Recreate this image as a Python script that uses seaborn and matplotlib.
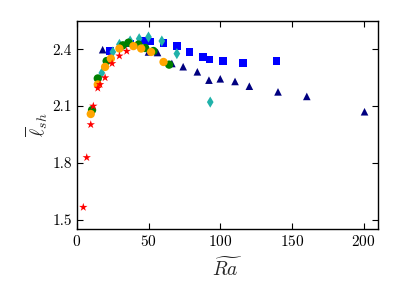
import numpy as np
import pandas as pd
import matplotlib
matplotlib.use("Agg")
import matplotlib.pyplot as plt
import seaborn as sns

# Series (Ra_tilde, l_sh)
star_x = [4.4, 6.8, 9.6, 11.4, 14.5, 16.1, 19.6, 24.5, 29.6, 34.7]
star_y = [1.565, 1.828, 2.002, 2.10, 2.195, 2.214, 2.25, 2.325, 2.365, 2.39]

orange_x = [9.6, 14.5, 19.6, 23.6, 29.6, 39.4, 44.8, 51.7, 60.4]
orange_y = [2.058, 2.214, 2.307, 2.351, 2.404, 2.417, 2.404, 2.386, 2.333]

green_x = [10.5, 14.5, 20.7, 32.0, 35.9, 42.9, 47.6, 53.4, 64.3]
green_y = [2.079, 2.246, 2.338, 2.421, 2.435, 2.425, 2.407, 2.391, 2.319]

diamond_x = [17.3, 25.0, 29.6, 37.1, 43.4, 49.9, 59.2, 69.7, 93.0]
diamond_y = [2.275, 2.386, 2.426, 2.444, 2.456, 2.465, 2.444, 2.377, 2.121]

square_x = [23.1, 37.1, 45.7, 51.0, 60.4, 69.7, 78.4, 87.9, 92.5, 101.9, 115.9, 139.2]
square_y = [2.39, 2.43, 2.447, 2.442, 2.433, 2.416, 2.385, 2.36, 2.346, 2.337, 2.328, 2.338]

tri_x = [17.9, 35.9, 49.9, 56.2, 66.2, 74.1, 84.0, 92.1, 100.0, 110.3, 120.3, 140.3, 160.4, 200.7]
tri_y = [2.398, 2.438, 2.386, 2.383, 2.325, 2.308, 2.281, 2.237, 2.244, 2.23, 2.205, 2.175, 2.151, 2.07]

series = {
    "tri": (tri_x, tri_y),
    "square": (square_x, square_y),
    "diamond": (diamond_x, diamond_y),
    "green": (green_x, green_y),
    "orange": (orange_x, orange_y),
    "star": (star_x, star_y),
}
colors = {"tri": "#000080", "square": "#0000ff", "diamond": "#20b2aa",
          "green": "#008000", "orange": "#ffa500", "star": "#ff0000"}
markers = {"tri": "^", "square": "s", "diamond": "d",
           "green": "o", "orange": "o", "star": "*"}
sizes = {"tri": 30, "square": 30, "diamond": 32,
         "green": 36, "orange": 36, "star": 40}

frames = [pd.DataFrame({"Ra": x, "l": y, "set": k}) for k, (x, y) in series.items()]
df = pd.concat(frames, ignore_index=True)

sns.set_style("ticks")
plt.rcParams["mathtext.fontset"] = "cm"
plt.rcParams["font.family"] = "serif"
plt.rcParams["font.serif"] = ["cmr10", "DejaVu Serif"]
plt.rcParams["axes.formatter.use_mathtext"] = True

fig = plt.figure(figsize=(3.99, 2.99), dpi=100)
ax = fig.add_axes([0.193, 0.234, 0.754, 0.696])

for k in series:
    sub = df[df["set"] == k]
    sns.scatterplot(data=sub, x="Ra", y="l", color=colors[k], marker=markers[k],
                    s=sizes[k], edgecolor="none", linewidth=0, ax=ax, legend=False)

ax.set_xlim(0, 210)
ax.set_ylim(1.45, 2.55)
ax.set_xticks([0, 50, 100, 150, 200])
ax.set_yticks([1.5, 1.8, 2.1, 2.4])
ax.set_yticklabels(["1.5", "1.8", "2.1", "2.4"])
ax.tick_params(direction="in", top=True, right=True, length=4, width=0.8,
               labelsize=11, colors="black")
for sp in ax.spines.values():
    sp.set_linewidth(1.0)
    sp.set_color("black")

ax.set_xlabel(r"$\widetilde{Ra}$", fontsize=14, labelpad=6)
ax.set_ylabel(r"$\overline{\ell}_{sh}$", fontsize=14, labelpad=2)

fig.savefig("out.png", dpi=100)
